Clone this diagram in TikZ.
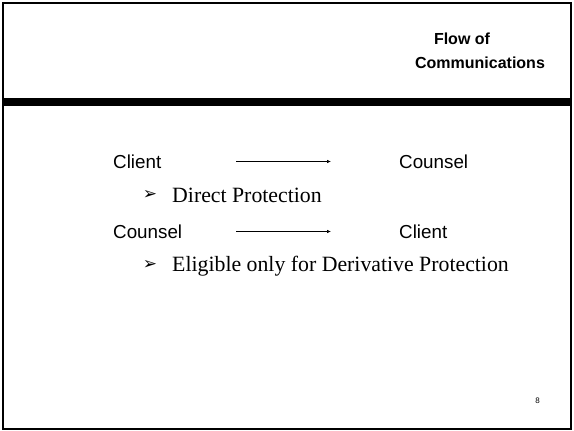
\documentclass[tikz,border=0pt]{standalone}
\usepackage{fontspec}
\setmainfont{Liberation Serif}
\setsansfont{Liberation Sans}
\newfontfamily\dingfont{DejaVu Sans}
\usetikzlibrary{arrows.meta,positioning}

\begin{document}
\begin{tikzpicture}[x=1pt,y=-1pt,
        ttl/.style={font=\sffamily\bfseries\fontsize{16}{18}\selectfont,
                    anchor=base,inner sep=0pt},
        lbl/.style={font=\sffamily\fontsize{18.8}{22}\selectfont,
                    anchor=base west,inner sep=0pt},
        itm/.style={font=\fontsize{21.8}{25}\selectfont,
                    anchor=base west,inner sep=0pt},
        bul/.style={font=\dingfont\fontsize{17}{18}\selectfont,inner sep=0pt},
        arr/.style={-{Latex[length=4pt,width=3.5pt]},line width=0.7pt}
      ]
        \useasboundingbox (0,0) rectangle (574,431);
        % slide frame and header bar
        \draw[line width=2pt] (2.5,2.5) rectangle (571,429);
        \fill (2.5,98) rectangle (571,105.5);
        % title
        \node[ttl] (ttl1) at (462,45) {Flow of};
        \node[ttl] (ttl2) at (480,68.5) {Communications};
        % first flow
        \node[lbl] (client1) at (113,168.5) {Client};
        \node[lbl] (counsel1) at (399,168.5) {Counsel};
        \coordinate (a1) at (236,161.5);
        \coordinate (b1) at (331,161.5);
        \draw[arr] (a1)--(b1);
        \node[bul] (bul1) at (150,195) {➢};
        \node[itm] (itm1) at (172,202) {Direct Protection};
        % second flow
        \node[lbl] (counsel2) at (113,238) {Counsel};
        \node[lbl] (client2) at (399,238) {Client};
        \coordinate (a2) at (236,231.5);
        \coordinate (b2) at (331,231.5);
        \draw[arr] (a2)--(b2);
        \node[bul] (bul2) at (150,265) {➢};
        \node[itm] (itm2) at (172,271) {Eligible only for Derivative Protection};
        % page number
        \node[font=\sffamily\fontsize{8}{9}\selectfont,anchor=base,inner sep=0pt]
          (pg) at (537.7,403.5) {8};
      \end{tikzpicture}
\end{document}
